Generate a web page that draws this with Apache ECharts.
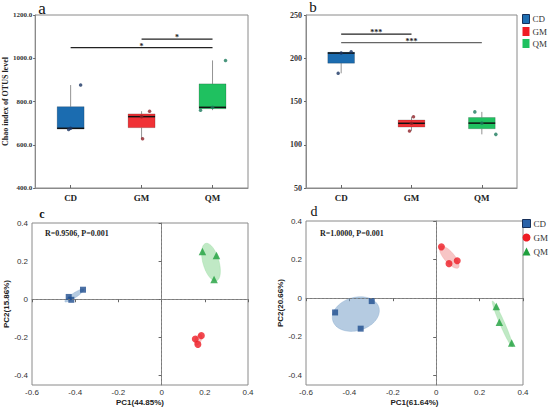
<!DOCTYPE html>
<html>
<head>
<meta charset="utf-8">
<script src="https://cdn.jsdelivr.net/npm/echarts@6/dist/echarts.min.js"></script>
<style>html,body{margin:0;padding:0;background:#fff}#c{width:550px;height:407px}</style>
</head>
<body>
<div id="c"></div>
<script>
// ---------- data ----------
const categories = ['CD', 'GM', 'QM'];
// panel a: Chao index (3 samples per group)
const chaoCD = [671, 676, 876];
const chaoGM = [628, 730, 755];
const chaoQM = [760, 773, 990];
// panel b: second alpha index
const obsCD = [182.6, 206, 207.6];
const obsGM = [116, 124.8, 132.4];
const obsQM = [112, 125, 138];
// significance brackets: [fromCategory, toCategory, value, mark]
const sigA = [[0, 2, 1049, '*'], [1, 2, 1088, '*']];
const sigB = [[0, 1, 228, '***'], [0, 2, 218, '***']];
// panel c PCoA
const pcC_CD = [[-0.430, 0.012], [-0.418, -0.003], [-0.364, 0.050]];
const pcC_GM = [[0.156, -0.209], [0.184, -0.191], [0.168, -0.237]];
const pcC_QM = [[0.189, 0.250], [0.254, 0.230], [0.243, 0.104]];
// panel d PCoA
const pcD_CD = [[-0.466, -0.074], [-0.348, -0.158], [-0.297, -0.015]];
const pcD_GM = [[0.024, 0.266], [0.059, 0.179], [0.097, 0.194]];
const pcD_QM = [[0.277, -0.043], [0.291, -0.125], [0.348, -0.232]];
const pcTicks = [-0.4, -0.2, 0, 0.2, 0.4];
const statC = 'R=0.9506, P=0.001';
const statD = 'R=1.0000, P=0.001';

// ---------- styles ----------
const boxFill = ['#1b6cb0', '#f03236', '#1fc160'];
const dotCol = ['#1a3563', '#8e2228', '#1b7a5c'];
const ptCol = ['#1f4e8e', '#ee1c24', '#1fa03d'];
const ellFill = ['rgba(120,160,200,0.55)', 'rgba(240,140,140,0.5)', 'rgba(140,215,150,0.55)'];
const jitter = [[-2, 0, 10], [1, 0, 8], [-12, 0, 13]];
const jitterB = [[-3, 0, 10], [-2, 0, 2], [14, 0, -7]];
const serif = '"Liberation Serif","DejaVu Serif",serif';
const sans = '"Liberation Sans",Arial,sans-serif';

function stats(v) {
  const s = v.slice().sort((a, b) => a - b);
  return [s[0], (s[0] + s[1]) / 2, s[1], (s[1] + s[2]) / 2, s[2]];
}

function boxSeries(ax, gi, vals, name) {
  const st = stats(vals);
  return {
    type: 'custom', name: name, xAxisIndex: ax, yAxisIndex: ax, z: 2,
    data: [[gi].concat(st)],
    renderItem: function (params, api) {
      const c = api.value(0);
      const pMin = api.coord([c, api.value(1)]);
      const pQ1 = api.coord([c, api.value(2)]);
      const pMd = api.coord([c, api.value(3)]);
      const pQ3 = api.coord([c, api.value(4)]);
      const pMax = api.coord([c, api.value(5)]);
      const bw = api.size([1, 0])[0] * 0.38;
      const x = pMd[0];
      return {
        type: 'group', children: [
          { type: 'line', shape: { x1: x, y1: pMax[1], x2: x, y2: pQ3[1] }, style: { stroke: '#777', lineWidth: 0.8 } },
          { type: 'line', shape: { x1: x, y1: pQ1[1], x2: x, y2: pMin[1] }, style: { stroke: '#777', lineWidth: 0.8 } },
          { type: 'rect', shape: { x: x - bw / 2, y: pQ3[1], width: bw, height: pQ1[1] - pQ3[1] }, style: { fill: boxFill[gi], stroke: 'rgba(0,0,0,0.35)', lineWidth: 0.5 } },
          { type: 'line', shape: { x1: x - bw / 2, y1: pMd[1], x2: x + bw / 2, y2: pMd[1] }, style: { stroke: '#111', lineWidth: 1.5 } }
        ]
      };
    }
  };
}

function dotSeries(ax, gi, vals, jit) {
  return {
    type: 'scatter', name: 'pts' + ax + gi, xAxisIndex: ax, yAxisIndex: ax, z: 3,
    symbol: 'circle', symbolSize: 3.5, itemStyle: { color: dotCol[gi] },
    data: vals.map((v, i) => ({ value: [gi, v], symbolOffset: [jit[i], 0] }))
  };
}

function sigSeries(ax, sig, colors) {
  return {
    type: 'custom', name: 'sig' + ax, xAxisIndex: ax, yAxisIndex: ax, z: 4,
    data: sig.map(s => [s[0], s[1], s[2]]),
    renderItem: function (params, api) {
      const a = api.coord([api.value(0), api.value(2)]);
      const b = api.coord([api.value(1), api.value(2)]);
      const mark = sig[params.dataIndex][3];
      return {
        type: 'group', children: [
          { type: 'line', shape: { x1: a[0], y1: a[1], x2: b[0], y2: b[1] }, style: { stroke: colors[params.dataIndex], lineWidth: 1.2 } },
          { type: 'text', x: (a[0] + b[0]) / 2, y: a[1] + 2.5, style: { text: mark, textAlign: 'center', textVerticalAlign: 'bottom', font: 'bold 8px ' + serif, fill: '#222' } }
        ]
      };
    }
  };
}

function ellipseSeries(ax, gi, pts) {
  const n = pts.length;
  const mx = pts.reduce((s, p) => s + p[0], 0) / n;
  const my = pts.reduce((s, p) => s + p[1], 0) / n;
  let a = 0, b = 0, c = 0;
  pts.forEach(p => { const dx = p[0] - mx, dy = p[1] - my; a += dx * dx; b += dx * dy; c += dy * dy; });
  a /= (n - 1); b /= (n - 1); c /= (n - 1);
  const h = (a + c) / 2, r = Math.sqrt(((a - c) / 2) ** 2 + b * b);
  const l1 = Math.max(h + r, 1e-8), l2 = Math.max(h - r, 1e-6);
  const th = 0.5 * Math.atan2(2 * b, a - c);
  const k = 1.25;
  const s1 = k * Math.sqrt(l1), s2 = k * Math.sqrt(l2);
  return {
    type: 'custom', name: 'ell' + ax + gi, xAxisIndex: ax, yAxisIndex: ax, z: 1,
    data: [[mx, my]],
    renderItem: function (params, api) {
      const poly = [];
      for (let i = 0; i < 72; i++) {
        const t = i / 72 * Math.PI * 2;
        const u = s1 * Math.cos(t), v = s2 * Math.sin(t);
        poly.push(api.coord([mx + u * Math.cos(th) - v * Math.sin(th), my + u * Math.sin(th) + v * Math.cos(th)]));
      }
      return { type: 'polygon', shape: { points: poly }, style: { fill: ellFill[gi], stroke: ellFill[gi], lineWidth: 0.6 } };
    }
  };
}

const symbols = ['rect', 'circle', 'triangle'];
const symSizes = [6, 7, 7.5];
function ptSeries(ax, gi, pts, extra) {
  const s = {
    type: 'scatter', name: categories[gi], xAxisIndex: ax, yAxisIndex: ax, z: 3,
    symbol: symbols[gi], symbolSize: symSizes[gi], itemStyle: { color: ptCol[gi] },
    data: pts
  };
  return Object.assign(s, extra || {});
}
const zeroLines = {
  markLine: {
    silent: true, symbol: ['none', 'none'], label: { show: false }, animation: false,
    lineStyle: { type: [2, 2], color: '#777', width: 0.8 },
    data: [{ xAxis: 0 }, { yAxis: 0 }]
  }
};

// ---------- axes ----------
const gridBase = { show: true, borderColor: '#8a8a8a', borderWidth: 1, backgroundColor: 'transparent' };
const grids = [
  Object.assign({ left: 33, top: 15, width: 215, height: 173 }, gridBase),
  Object.assign({ left: 306, top: 15, width: 211, height: 173 }, gridBase),
  Object.assign({ left: 32, top: 223, width: 216, height: 164 }, gridBase),
  Object.assign({ left: 306, top: 221, width: 217, height: 164 }, gridBase)
];
const lineAx = { show: true, lineStyle: { color: '#8a8a8a', width: 1 } };
function catX(gi) {
  return {
    type: 'category', gridIndex: gi, data: categories, axisLine: lineAx,
    axisTick: { show: true, alignWithLabel: true, inside: true, length: 3, lineStyle: { color: '#666' } },
    axisLabel: { margin: 5, fontFamily: serif, fontWeight: 'bold', fontSize: 9, color: '#222' },
    splitLine: { show: false }
  };
}
function pcX(gi, name) {
  return {
    type: 'value', gridIndex: gi, min: -0.6, max: 0.4, interval: 0.2,
    name: name, nameLocation: 'middle', nameGap: 13,
    nameTextStyle: { fontFamily: sans, fontWeight: 'bold', fontSize: 8, color: '#222' },
    axisLine: lineAx, axisTick: { show: true, length: 3, lineStyle: { color: '#666' } },
    axisLabel: { margin: 3, fontFamily: sans, fontSize: 8, color: '#333', formatter: v => (Math.abs(v) < 1e-9 ? '0' : v.toFixed(1)) },
    splitLine: { show: false }
  };
}
function pcY(gi, name, gap) {
  return {
    type: 'value', gridIndex: gi, min: -0.45, max: 0.4,
    name: name, nameLocation: 'middle', nameGap: gap,
    nameTextStyle: { fontFamily: sans, fontWeight: 'bold', fontSize: 8, color: '#222' },
    axisLine: lineAx,
    axisTick: { show: true, length: 3, customValues: pcTicks, lineStyle: { color: '#666' } },
    axisLabel: { margin: 4, fontFamily: sans, fontSize: 8, color: '#333', customValues: pcTicks, formatter: v => (Math.abs(v) < 1e-9 ? '0' : v.toFixed(1)) },
    splitLine: { show: false }
  };
}

const option = {
  animation: false,
  backgroundColor: '#fff',
  grid: grids,
  xAxis: [catX(0), catX(1), pcX(2, 'PC1(44.85%)'), pcX(3, 'PC1(61.64%)')],
  yAxis: [
    {
      type: 'value', gridIndex: 0, min: 400, max: 1200, interval: 200,
      name: 'Chao index of OTUS level', nameLocation: 'middle', nameGap: 25,
      nameTextStyle: { fontFamily: serif, fontWeight: 'bold', fontSize: 8, color: '#222' },
      axisLine: lineAx, axisTick: { show: true, length: 2, lineStyle: { color: '#666' } },
      axisLabel: { margin: 3, fontFamily: serif, fontWeight: 'bold', fontSize: 7, color: '#333', formatter: v => v.toFixed(1) },
      splitLine: { show: false }
    },
    {
      type: 'value', gridIndex: 1, min: 50, max: 250, interval: 50,
      axisLine: lineAx, axisTick: { show: true, length: 2, lineStyle: { color: '#666' } },
      axisLabel: { margin: 4, fontFamily: serif, fontWeight: 'bold', fontSize: 8, color: '#333' },
      splitLine: { show: false }
    },
    pcY(2, 'PC2(15.86%)', 17),
    pcY(3, 'PC2(20.66%)', 19)
  ],
  legend: [
    {
      orient: 'vertical', left: 522, top: 14, itemWidth: 7, itemHeight: 9, itemGap: 3, padding: 0,
      textStyle: { fontFamily: serif, fontSize: 9, color: '#333', padding: [0, 0, 0, -2] },
      data: [
        { name: 'CD', icon: 'rect', itemStyle: { color: '#1f6fb2', borderColor: '#17305a', borderWidth: 1 } },
        { name: 'GM', icon: 'rect', itemStyle: { color: '#f01c24', borderWidth: 0 } },
        { name: 'QM', icon: 'rect', itemStyle: { color: '#1fc160', borderWidth: 0 } }
      ]
    },
    {
      orient: 'vertical', left: 522, top: 219, itemWidth: 8, itemHeight: 8, itemGap: 5, padding: 0,
      textStyle: { fontFamily: serif, fontSize: 9, color: '#333', padding: [0, 0, 0, -2] },
      data: [
        { name: 'CD', icon: 'rect', itemStyle: { color: '#2a62a8', borderColor: '#17305a', borderWidth: 1 } },
        { name: 'GM', icon: 'circle', itemStyle: { color: '#ee1c24', borderWidth: 0 } },
        { name: 'QM', icon: 'triangle', itemStyle: { color: '#1fa03d', borderWidth: 0 } }
      ]
    }
  ],
  graphic: [
    { type: 'text', x: 42, y: 8, style: { text: 'a', font: '17px ' + serif, fill: '#111', textAlign: 'center', textVerticalAlign: 'middle' } },
    { type: 'text', x: 313, y: 7, style: { text: 'b', font: '15px ' + serif, fill: '#111', textAlign: 'center', textVerticalAlign: 'middle' } },
    { type: 'text', x: 42, y: 214, style: { text: 'c', font: 'bold 12px ' + serif, fill: '#111', textAlign: 'center', textVerticalAlign: 'middle' } },
    { type: 'text', x: 314, y: 211, style: { text: 'd', font: '14px ' + serif, fill: '#111', textAlign: 'center', textVerticalAlign: 'middle' } },
    { type: 'text', x: 45, y: 233, style: { text: statC, font: 'bold 8px ' + serif, fill: '#222', textAlign: 'left', textVerticalAlign: 'middle' } },
    { type: 'text', x: 320, y: 233, style: { text: statD, font: 'bold 8px ' + serif, fill: '#222', textAlign: 'left', textVerticalAlign: 'middle' } }
  ],
  series: [
    boxSeries(0, 0, chaoCD, 'CD'), boxSeries(0, 1, chaoGM, 'GM'), boxSeries(0, 2, chaoQM, 'QM'),
    dotSeries(0, 0, chaoCD, jitter[0]), dotSeries(0, 1, chaoGM, jitter[1]), dotSeries(0, 2, chaoQM, jitter[2]),
    sigSeries(0, sigA, ['#222', '#222']),
    boxSeries(1, 0, obsCD, 'CD'), boxSeries(1, 1, obsGM, 'GM'), boxSeries(1, 2, obsQM, 'QM'),
    dotSeries(1, 0, obsCD, jitterB[0]), dotSeries(1, 1, obsGM, jitterB[1]), dotSeries(1, 2, obsQM, jitterB[2]),
    sigSeries(1, sigB, ['#222', '#666']),
    ellipseSeries(2, 0, pcC_CD), ellipseSeries(2, 1, pcC_GM), ellipseSeries(2, 2, pcC_QM),
    ptSeries(2, 0, pcC_CD, zeroLines), ptSeries(2, 1, pcC_GM), ptSeries(2, 2, pcC_QM),
    ellipseSeries(3, 0, pcD_CD), ellipseSeries(3, 1, pcD_GM), ellipseSeries(3, 2, pcD_QM),
    ptSeries(3, 0, pcD_CD, zeroLines), ptSeries(3, 1, pcD_GM), ptSeries(3, 2, pcD_QM)
  ]
};
const chart = echarts.init(document.getElementById('c'), null, { renderer: 'svg', width: 550, height: 407 });
chart.setOption(option);
</script>
</body>
</html>
